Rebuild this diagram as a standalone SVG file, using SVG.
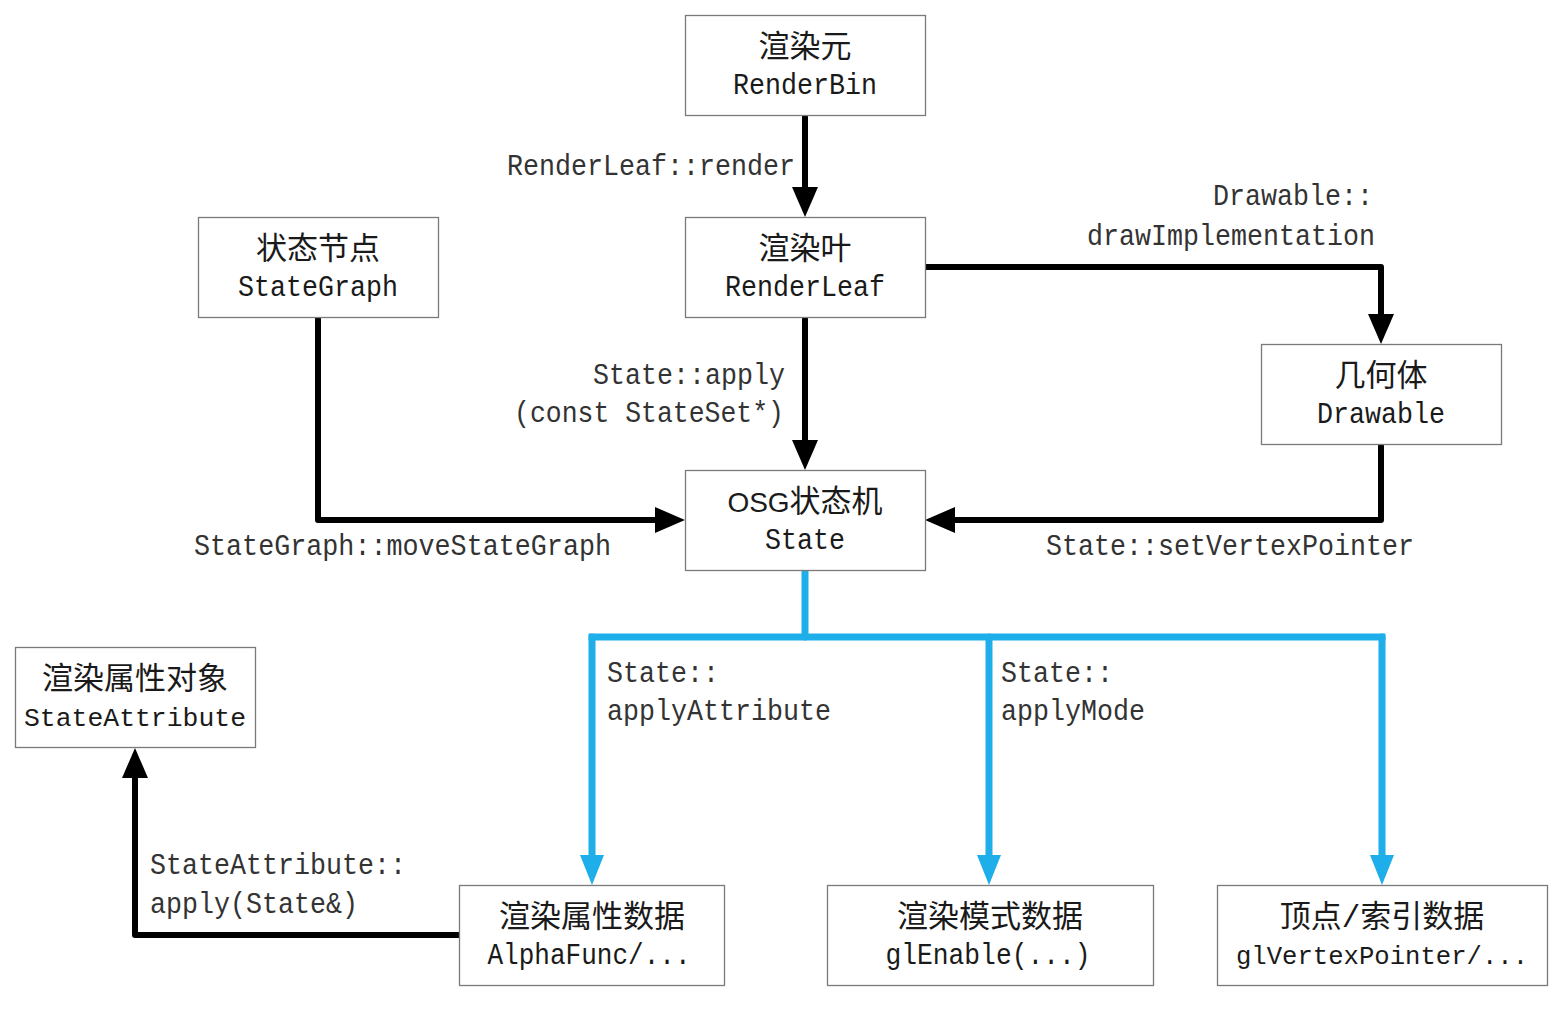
<svg xmlns="http://www.w3.org/2000/svg" width="1558" height="1012" viewBox="0 0 1558 1012">
<style>
.box{fill:#fff;stroke:#7a7a7a;stroke-width:1.3}
.cn{font-family:"Noto Sans CJK SC",sans-serif;font-size:31px;fill:#1a1a1a;text-anchor:middle}
.en{font-family:"Liberation Mono",monospace;font-size:30px;fill:#1a1a1a;text-anchor:middle}
.lbl{font-family:"Liberation Mono",monospace;font-size:29px;fill:#333}
.blk{fill:none;stroke:#000;stroke-width:6;stroke-linecap:round;stroke-linejoin:round}
.blu{fill:none;stroke:#1eaeea;stroke-width:7;stroke-linecap:round;stroke-linejoin:miter}
</style>
<defs>
<marker id="ab" markerUnits="userSpaceOnUse" markerWidth="30" markerHeight="26" refX="10" refY="13" orient="auto" viewBox="0 0 30 26">
<path d="M0,0 L30,13 L0,26 z" fill="#000"/>
</marker>
<marker id="au" markerUnits="userSpaceOnUse" markerWidth="30" markerHeight="24" refX="10" refY="12" orient="auto" viewBox="0 0 30 24">
<path d="M0,0 L30,12 L0,24 z" fill="#1eaeea"/>
</marker>
</defs>
<rect width="1558" height="1012" fill="#fff"/>

<g id="connectors">
<path class="blk" d="M805,117 L805,197" marker-end="url(#ab)"/>
<path class="blk" d="M805,319 L805,450" marker-end="url(#ab)"/>
<path class="blk" d="M926,267 L1381,267 L1381,324" marker-end="url(#ab)"/>
<path class="blk" d="M1381,446 L1381,520 L945,520" marker-end="url(#ab)"/>
<path class="blk" d="M318,319 L318,520 L665,520" marker-end="url(#ab)"/>
<path class="blk" d="M459,935 L135,935 L135,768" marker-end="url(#ab)"/>
<path class="blu" d="M805,572 L805,637"/>
<path class="blu" d="M592,637 L1382,637" style="stroke-linecap:square"/>
<path class="blu" d="M592,637 L592,865" marker-end="url(#au)"/>
<path class="blu" d="M989,637 L989,865" marker-end="url(#au)"/>
<path class="blu" d="M1382,637 L1382,865" marker-end="url(#au)"/>
</g>

<g id="labels">
<text class="lbl" x="507" y="175" textLength="288" lengthAdjust="spacingAndGlyphs">RenderLeaf::render</text>
<text class="lbl" x="1213" y="205" textLength="160" lengthAdjust="spacingAndGlyphs">Drawable::</text>
<text class="lbl" x="1087" y="245" textLength="288" lengthAdjust="spacingAndGlyphs">drawImplementation</text>
<text class="lbl" x="593" y="384" textLength="192" lengthAdjust="spacingAndGlyphs">State::apply</text>
<text class="lbl" x="514" y="422" textLength="270" lengthAdjust="spacingAndGlyphs">(const StateSet*)</text>
<text class="lbl" x="194" y="555" textLength="417" lengthAdjust="spacingAndGlyphs">StateGraph::moveStateGraph</text>
<text class="lbl" x="1046" y="555" textLength="368" lengthAdjust="spacingAndGlyphs">State::setVertexPointer</text>
<text class="lbl" x="607" y="682" textLength="112" lengthAdjust="spacingAndGlyphs">State::</text>
<text class="lbl" x="607" y="720" textLength="224" lengthAdjust="spacingAndGlyphs">applyAttribute</text>
<text class="lbl" x="1001" y="682" textLength="112" lengthAdjust="spacingAndGlyphs">State::</text>
<text class="lbl" x="1001" y="720" textLength="144" lengthAdjust="spacingAndGlyphs">applyMode</text>
<text class="lbl" x="150" y="874" textLength="256" lengthAdjust="spacingAndGlyphs">StateAttribute::</text>
<text class="lbl" x="150" y="913" textLength="208" lengthAdjust="spacingAndGlyphs">apply(State&amp;)</text>
</g>

<g id="renderbin">
<rect class="box" x="685.5" y="15.5" width="240" height="100"/>
<text class="cn" x="805" y="57">渲染元</text>
<text class="en" x="805" y="94" textLength="144" lengthAdjust="spacingAndGlyphs">RenderBin</text>
</g>
<g id="renderleaf">
<rect class="box" x="685.5" y="217.5" width="240" height="100"/>
<text class="cn" x="805" y="259">渲染叶</text>
<text class="en" x="805" y="296" textLength="160" lengthAdjust="spacingAndGlyphs">RenderLeaf</text>
</g>
<g id="stategraph">
<rect class="box" x="198.5" y="217.5" width="240" height="100"/>
<text class="cn" x="318" y="259">状态节点</text>
<text class="en" x="318" y="296" textLength="160" lengthAdjust="spacingAndGlyphs">StateGraph</text>
</g>
<g id="drawable">
<rect class="box" x="1261.5" y="344.5" width="240" height="100"/>
<text class="cn" x="1381" y="386">几何体</text>
<text class="en" x="1381" y="423" textLength="128" lengthAdjust="spacingAndGlyphs">Drawable</text>
</g>
<g id="state">
<rect class="box" x="685.5" y="470.5" width="240" height="100"/>
<text class="cn" x="805" y="512"><tspan style="font-family:'Liberation Sans',sans-serif;font-size:28px">OSG</tspan>状态机</text>
<text class="en" x="805" y="549" textLength="80" lengthAdjust="spacingAndGlyphs">State</text>
</g>
<g id="stateattribute">
<rect class="box" x="15.5" y="647.5" width="240" height="100"/>
<text class="cn" x="135" y="689">渲染属性对象</text>
<text class="en" x="135" y="726" style="font-size:26px" textLength="222" lengthAdjust="spacingAndGlyphs">StateAttribute</text>
</g>
<g id="alphafunc">
<rect class="box" x="459.5" y="885.5" width="265" height="100"/>
<text class="cn" x="592" y="927">渲染属性数据</text>
<text class="en" x="589" y="964" textLength="203" lengthAdjust="spacingAndGlyphs">AlphaFunc/...</text>
</g>
<g id="glenable">
<rect class="box" x="827.5" y="885.5" width="326" height="100"/>
<text class="cn" x="990" y="927">渲染模式数据</text>
<text class="en" x="988" y="964" textLength="205" lengthAdjust="spacingAndGlyphs">glEnable(...)</text>
</g>
<g id="glvertexpointer">
<rect class="box" x="1217.5" y="885.5" width="330" height="100"/>
<text class="cn" x="1382" y="927">顶点<tspan style="font-family:'Liberation Mono',monospace">/</tspan>索引数据</text>
<text class="en" x="1382" y="964" style="font-size:26px" textLength="292" lengthAdjust="spacingAndGlyphs">glVertexPointer/...</text>
</g>
</svg>
